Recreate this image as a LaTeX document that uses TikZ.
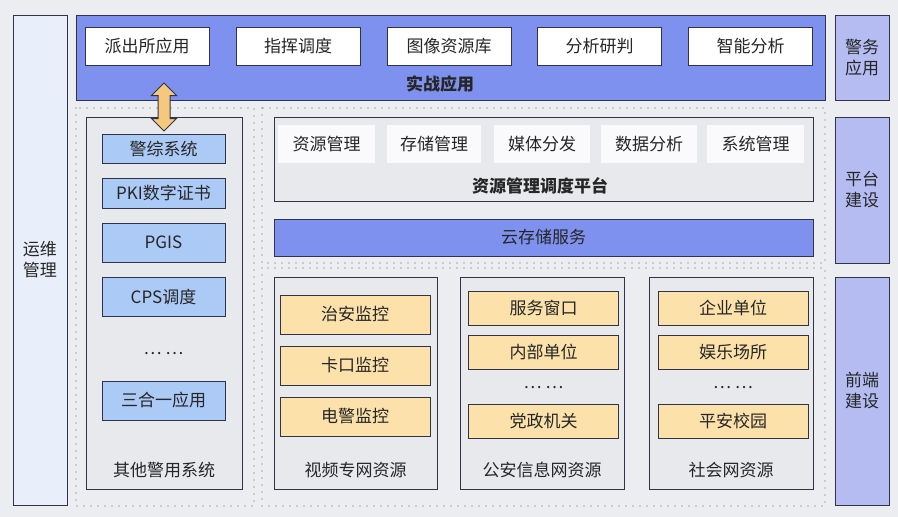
\documentclass[tikz,border=0pt]{standalone}
\usepackage{xcolor}
\usepackage{fontspec}
\usepackage{tikz}
\usetikzlibrary{shapes,arrows}
\newfontfamily\cjk{Noto Sans CJK SC}
\definecolor{bgcol}{RGB}{236,237,240}
\definecolor{edgecol}{RGB}{48,52,70}
\definecolor{bandblue}{RGB}{126,145,238}
\definecolor{sideblue}{RGB}{180,188,242}
\definecolor{opsblue}{RGB}{232,238,250}
\definecolor{sysblue}{RGB}{172,202,246}
\definecolor{srcorange}{RGB}{252,226,170}
\definecolor{arroworange}{RGB}{246,200,126}
\definecolor{panelgrey}{RGB}{231,233,237}
\definecolor{tilewhite}{RGB}{250,250,252}

\begin{document}
\begin{tikzpicture}[x=1pt,y=-1pt,
  every node/.style={font=\cjk\fontsize{17}{21}\selectfont,inner sep=0pt,text=black!85},
  panel/.style={draw=edgecol,line width=1pt,fill=panelgrey},
  band/.style={draw=edgecol,line width=1pt,fill=bandblue},
  sidebox/.style={draw=edgecol,line width=1pt,fill=sideblue,minimum width=54pt,align=center},
  appbox/.style={draw=edgecol,line width=1pt,fill=white,minimum width=124pt,minimum height=38pt},
  tilebox/.style={fill=tilewhite,minimum height=38pt},
  sysbox/.style={draw=edgecol,line width=1pt,fill=sysblue,minimum width=123pt},
  srcbox/.style={draw=edgecol,line width=1pt,fill=srcorange,minimum width=150pt},
  dotframe/.style={draw=edgecol!80,line width=1.4pt,line cap=round,dash pattern=on 0pt off 7pt}]

\fill[bgcol] (0,0) rectangle (898,517);
\useasboundingbox (0,0) rectangle (898,517);

\node [draw=edgecol,line width=1pt,fill=opsblue,minimum width=54pt,minimum height=490pt,align=center] (v0) at (40,260) {运维\\管理};

\node [band,minimum width=749pt,minimum height=85pt] (v1) at (450.5,57.5) {};
\node [appbox] (v2) at (147,46) {派出所应用};
\node [appbox] (v3) at (298,46) {指挥调度};
\node [appbox] (v4) at (449,46) {图像资源库};
\node [appbox] (v5) at (599.5,46) {分析研判};
\node [appbox] (v6) at (750.5,46) {智能分析};
\node [font=\cjk\bfseries\fontsize{17}{21}\selectfont] (v7) at (440,84) {实战应用};

\node [sidebox,minimum height=85pt] (v8) at (862,57.5) {警务\\应用};
\node [sidebox,minimum height=146pt] (v9) at (862,190) {平台\\建设};
\node [sidebox,minimum height=228pt] (v10) at (862,391) {前端\\建设};

\draw [dotframe] (76,108) rectangle (254,506);
\draw [dotframe] (262,108) rectangle (825,263);
\draw [dotframe] (262,268) rectangle (825,506);

\node [panel,minimum width=156pt,minimum height=372pt] (v11) at (164,303) {};
\node [sysbox,minimum height=29pt] (v12) at (163.5,148.5) {警综系统};
\node [sysbox,minimum height=30pt] (v13) at (163.5,193) {PKI数字证书};
\node [sysbox,minimum height=39pt] (v14) at (163.5,242.5) {PGIS};
\node [sysbox,minimum height=39pt] (v15) at (163.5,297) {CPS调度};
\node (v16) at (163.5,354) {… …};
\node [sysbox,minimum height=39pt] (v17) at (163.5,400.5) {三合一应用};
\node (v18) at (164,470) {其他警用系统};

\node [double arrow,rotate=90,draw=edgecol,line width=1pt,fill=arroworange,inner sep=5.5pt,minimum height=48pt,double arrow head extend=6.5pt] (v19) at (164,107) {};

\node [panel,minimum width=539pt,minimum height=84pt] (v20) at (543.5,159) {};
\node [tilebox,minimum width=97pt] (v21) at (326.5,144) {资源管理};
\node [tilebox,minimum width=94pt] (v22) at (434,144) {存储管理};
\node [tilebox,minimum width=96pt] (v23) at (542,144) {媒体分发};
\node [tilebox,minimum width=96pt] (v24) at (649,144) {数据分析};
\node [tilebox,minimum width=97pt] (v25) at (755.5,144) {系统管理};
\node [font=\cjk\bfseries\fontsize{17}{21}\selectfont] (v26) at (540,186) {资源管理调度平台};

\node [band,minimum width=539pt,minimum height=37pt] (v27) at (543.5,237.5) {云存储服务};

\node [panel,minimum width=163pt,minimum height=212pt] (v28) at (355.5,383) {};
\node [srcbox,minimum height=39pt] (v29) at (355,314.5) {治安监控};
\node [srcbox,minimum height=39pt] (v30) at (355,365.5) {卡口监控};
\node [srcbox,minimum height=39pt] (v31) at (355,416.5) {电警监控};
\node (v32) at (355.5,470) {视频专网资源};

\node [panel,minimum width=164pt,minimum height=212pt] (v33) at (542,383) {};
\node [srcbox,minimum height=34pt] (v34) at (543.5,308) {服务窗口};
\node [srcbox,minimum height=34pt] (v35) at (543.5,352) {内部单位};
\node (v36) at (543.5,388) {… …};
\node [srcbox,minimum height=34pt] (v37) at (543.5,421) {党政机关};
\node (v38) at (542,470) {公安信息网资源};

\node [panel,minimum width=164pt,minimum height=212pt] (v39) at (731,383) {};
\node [srcbox,minimum height=34pt] (v40) at (733,308) {企业单位};
\node [srcbox,minimum height=34pt] (v41) at (733,352) {娱乐场所};
\node (v42) at (733,388) {… …};
\node [srcbox,minimum height=34pt] (v43) at (733,421) {平安校园};
\node (v44) at (731,470) {社会网资源};

\end{tikzpicture}
\end{document}
